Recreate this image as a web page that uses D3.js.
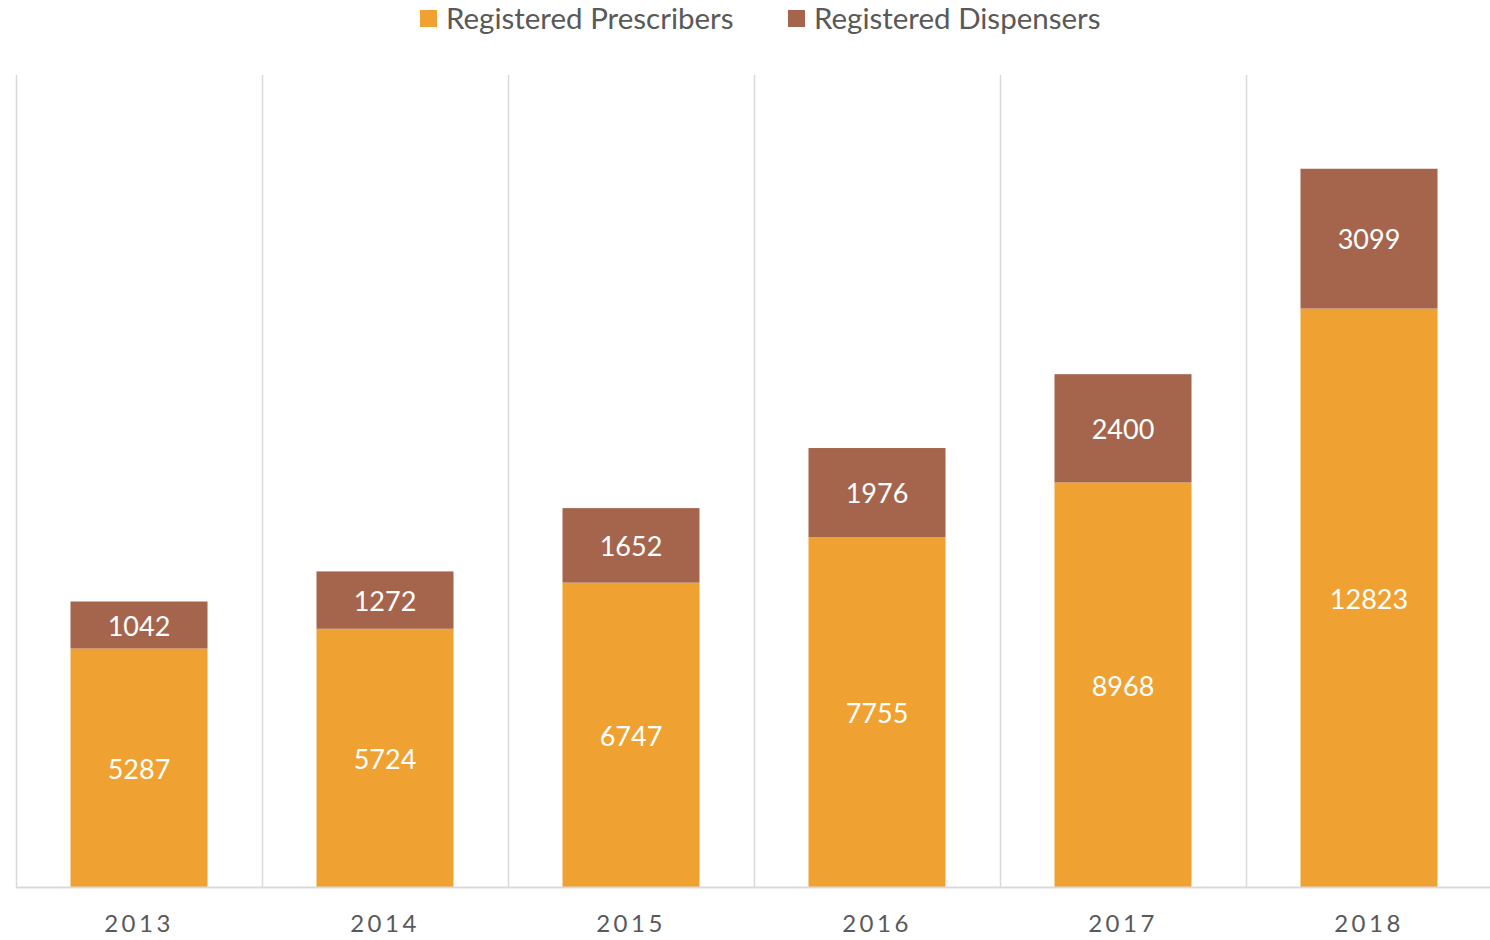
<!DOCTYPE html>
<html>
<head>
<meta charset="utf-8">
<script src="https://cdn.jsdelivr.net/npm/d3@7"></script>
<style>
  body { margin: 0; background: #fff; }
  svg { display: block; font-family: Lato, "Open Sans", sans-serif; }
</style>
</head>
<body>
<svg id="chart" width="1490" height="940"></svg>
<script>
// データ
const years = ["2013", "2014", "2015", "2016", "2017", "2018"];
const prescribers = [5287, 5724, 6747, 7755, 8968, 12823];
const dispensers = [1042, 1272, 1652, 1976, 2400, 3099];
const seriesNames = ["Registered Prescribers", "Registered Dispensers"];
const colors = ["#EFA231", "#A5654D"];

const rows = years.map((y, i) => ({ year: y, p: prescribers[i], d: dispensers[i] }));

const svg = d3.select("#chart");
const plotLeft = 16, plotRight = 1492, plotTop = 75, plotBottom = 887;

const x = d3.scaleBand().domain(years).range([plotLeft, plotRight]).paddingInner(0).paddingOuter(0);
const y = d3.scaleLinear().domain([0, 18000]).range([plotBottom, plotTop]);
const barW = 137;

// 縦グリッド線
svg.append("g")
  .selectAll("line")
  .data(years)
  .enter()
  .append("line")
  .attr("x1", d => x(d) + 0.5)
  .attr("x2", d => x(d) + 0.5)
  .attr("y1", plotTop)
  .attr("y2", plotBottom)
  .attr("stroke", "#D9D9D9")
  .attr("stroke-width", 1.5);

const stack = d3.stack().keys(["p", "d"])(rows);

const layer = svg.selectAll("g.layer")
  .data(stack)
  .enter()
  .append("g")
  .attr("class", "layer")
  .attr("fill", (d, i) => colors[i]);

layer.selectAll("rect")
  .data(d => d)
  .enter()
  .append("rect")
  .attr("x", d => x(d.data.year) + (x.bandwidth() - barW) / 2)
  .attr("width", barW)
  .attr("y", d => y(d[1]))
  .attr("height", d => y(d[0]) - y(d[1]));

// 値ラベル
layer.selectAll("text")
  .data(d => d)
  .enter()
  .append("text")
  .attr("x", d => x(d.data.year) + x.bandwidth() / 2)
  .attr("y", d => (y(d[0]) + y(d[1])) / 2)
  .attr("dy", "0.4em")
  .attr("text-anchor", "middle")
  .attr("fill", "#fff")
  .attr("font-size", "27px")
  .text(d => d[1] - d[0]);

// X軸
svg.append("line")
  .attr("x1", plotLeft)
  .attr("x2", plotRight)
  .attr("y1", plotBottom + 0.5)
  .attr("y2", plotBottom + 0.5)
  .attr("stroke", "#D9D9D9")
  .attr("stroke-width", 2);

svg.append("g")
  .selectAll("text")
  .data(years)
  .enter()
  .append("text")
  .attr("x", d => x(d) + x.bandwidth() / 2)
  .attr("y", 932)
  .attr("text-anchor", "middle")
  .attr("fill", "#595959")
  .attr("font-size", "24px")
  .attr("letter-spacing", "3.5px")
  .text(d => d);

// 凡例
const legend = svg.append("g");
const legendX = [420, 788];
seriesNames.forEach((name, i) => {
  legend.append("rect")
    .attr("x", legendX[i])
    .attr("y", 10)
    .attr("width", 17)
    .attr("height", 17)
    .attr("fill", colors[i]);
  legend.append("text")
    .attr("x", legendX[i] + 26)
    .attr("y", 29)
    .attr("fill", "#595959")
    .attr("font-size", "29.5px")
    .text(name);
});
</script>
</body>
</html>
